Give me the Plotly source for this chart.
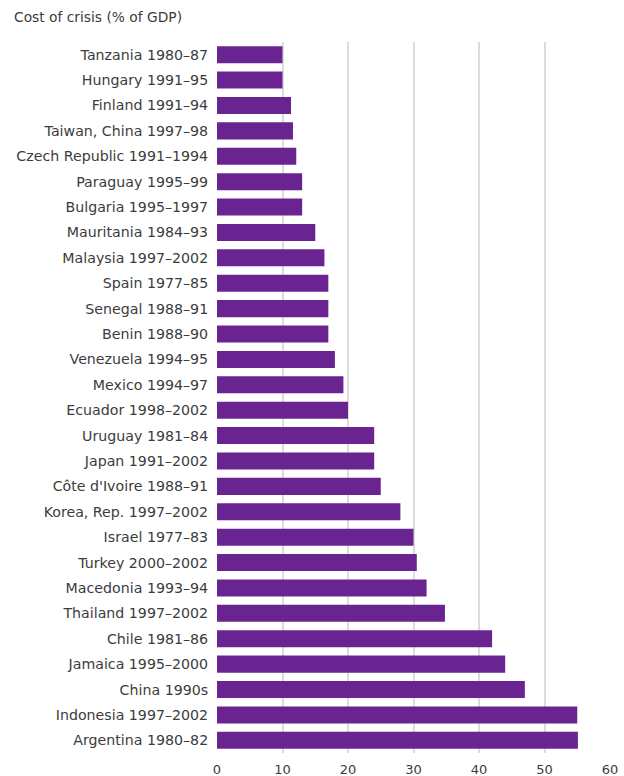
import plotly.graph_objects as go

categories = [
    "Tanzania 1980–87", "Hungary 1991–95", "Finland 1991–94", "Taiwan, China 1997–98",
    "Czech Republic 1991–1994", "Paraguay 1995–99", "Bulgaria 1995–1997", "Mauritania 1984–93",
    "Malaysia 1997–2002", "Spain 1977–85", "Senegal 1988–91", "Benin 1988–90",
    "Venezuela 1994–95", "Mexico 1994–97", "Ecuador 1998–2002", "Uruguay 1981–84",
    "Japan 1991–2002", "Côte d'Ivoire 1988–91", "Korea, Rep. 1997–2002", "Israel 1977–83",
    "Turkey 2000–2002", "Macedonia 1993–94", "Thailand 1997–2002", "Chile 1981–86",
    "Jamaica 1995–2000", "China 1990s", "Indonesia 1997–2002", "Argentina 1980–82",
]
values = [10, 10, 11.3, 11.6, 12.1, 13, 13, 15, 16.4, 17, 17, 17,
          18, 19.3, 20, 24, 24, 25, 28, 30, 30.5, 32, 34.8, 42,
          44, 47, 55, 55.1]
x_ticks = [0, 10, 20, 30, 40, 50, 60]
title_text = "Cost of crisis (% of GDP)"

font = "DejaVu Sans, Verdana, sans-serif"
txt_color = "#3c3c3c"

L, R, T, B = 217, 14, 42, 23
plot_w = 624 - L - R

fig = go.Figure(go.Bar(
    x=values, y=categories, orientation="h",
    marker=dict(color="#6a2491", line=dict(width=0)),
))
fig.update_layout(
    width=624, height=776,
    margin=dict(l=L, r=R, t=T, b=B, autoexpand=False),
    paper_bgcolor="white", plot_bgcolor="white",
    bargap=0.33,
    showlegend=False,
    font=dict(family=font, size=13, color=txt_color),
    annotations=[dict(
        text=title_text, xref="paper", yref="paper", x=-(L - 12) / plot_w, y=1,
        xanchor="left", yanchor="bottom", yshift=15, showarrow=False,
        font=dict(family=font, size=13.8, color=txt_color),
    )],
)
fig.update_xaxes(
    range=[0, 60], tickvals=x_ticks, showgrid=True, gridcolor="#dcdcdc", gridwidth=1.5,
    zeroline=False, showline=False, ticks="outside", ticklen=4, tickcolor="rgba(0,0,0,0)",
    tickfont=dict(family=font, size=13, color=txt_color), automargin=False,
)
fig.update_yaxes(
    categoryorder="array", categoryarray=categories, autorange="reversed",
    showgrid=False, zeroline=False, showline=False, ticks="outside", ticklen=5,
    tickcolor="rgba(0,0,0,0)",
    tickfont=dict(family=font, size=14.2, color=txt_color), automargin=False,
)
fig.write_html(
    "out.html",
    config={"displayModeBar": False},
    post_script="document.body.style.margin='0';document.body.style.overflow='hidden';",
)
